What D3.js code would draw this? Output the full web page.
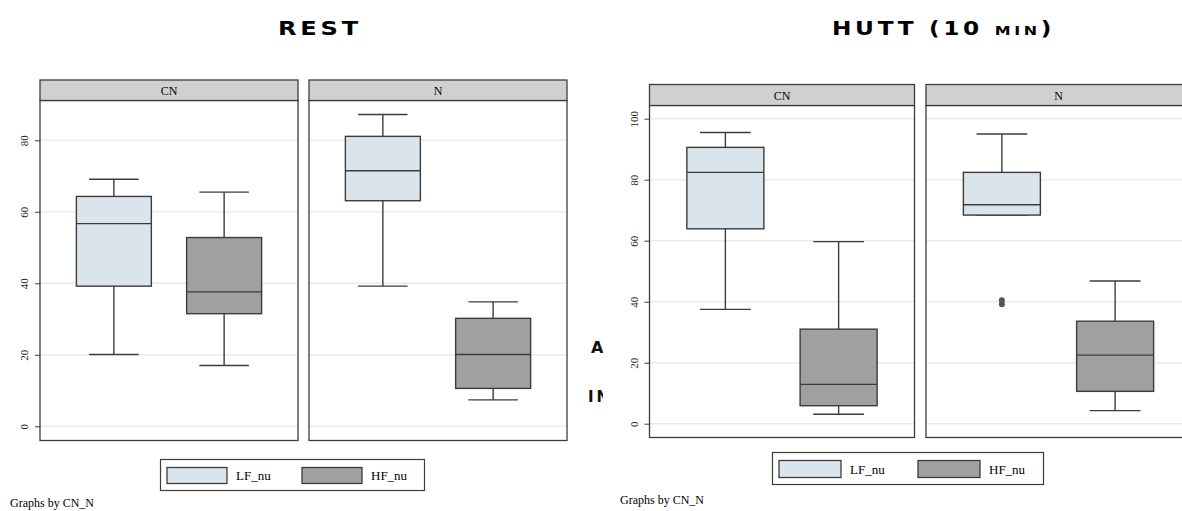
<!DOCTYPE html>
<html>
<head>
<meta charset="utf-8">
<script src="https://cdn.jsdelivr.net/npm/d3@7.9.0/dist/d3.min.js"></script>
<style>
  body { margin: 0; background: #fff; }
  svg { display: block; }
</style>
</head>
<body>
<svg id="chart" width="1182" height="511"></svg>
<script>
// groups (panels) and measures (boxes inside each panel)
const groups = ['CN', 'N'];
const measures = ['LF_nu', 'HF_nu'];

// five-number summaries per group: [min, q1, median, q3, max]
const restLF = [[20.1, 39.2, 56.7, 64.3, 69.1], [39.2, 63.1, 71.5, 81.1, 87.2]];
const restHF = [[17.0, 31.5, 37.6, 52.8, 65.5], [7.4, 10.6, 20.1, 30.2, 34.8]];
const huttLF = [[37.5, 63.9, 82.4, 90.6, 95.5], [68.4, 68.4, 71.8, 82.4, 95.0]];
const huttHF = [[3.1, 5.9, 12.9, 31.0, 59.7], [4.3, 10.6, 22.5, 33.6, 46.8]];
const huttOutliers = [
  { group: 'N', measure: 'LF_nu', value: 40.5 },
  { group: 'N', measure: 'LF_nu', value: 39.2 }
];
const restOutliers = [];

const restTicks = [0, 20, 40, 60, 80];
const huttTicks = [0, 20, 40, 60, 80, 100];

const fills = { LF_nu: '#dae5eb', HF_nu: '#a0a0a0' };
const ink = '#3c3c3c';

const svg = d3.select('#chart');

// text fragments peeking out from behind the right chart
svg.append('defs').append('clipPath').attr('id', 'fragclip')
  .append('rect').attr('x', 560).attr('y', 320).attr('width', 43).attr('height', 100);
const frag = svg.append('g').attr('clip-path', 'url(#fragclip)')
  .style('font-family', 'DejaVu Sans').style('font-weight', 'bold').style('fill', '#111');
frag.append('text').attr('x', 591).attr('y', 353).style('font-size', '16px').style('letter-spacing', '4px').text('AN');
frag.append('text').attr('x', 588).attr('y', 402).style('font-size', '15px').style('letter-spacing', '3px').text('IN');

function drawChart(cfg) {
  const g = svg.append('g');

  // title
  g.append('text')
    .attr('x', cfg.titleX).attr('y', 35)
    .attr('textLength', cfg.titleW)
    .attr('lengthAdjust', 'spacingAndGlyphs')
    .style('font-family', 'DejaVu Sans')
    .style('font-weight', 'bold')
    .style('font-size', '19px')
    .style('letter-spacing', '3px')
    .style('font-variant', 'small-caps')
    .text(cfg.title);

  const y = d3.scaleLinear().domain([0, cfg.ticks[cfg.ticks.length - 1]]).range([cfg.y0, cfg.yTop]);
  const px = d3.scaleBand().domain(groups).range([cfg.x0, cfg.x0 + 2 * cfg.panelW + cfg.gap]).paddingInner(cfg.gap / (cfg.panelW + cfg.gap));
  const bx = d3.scaleBand().domain(measures).range([0, cfg.panelW]).paddingInner(0.32).paddingOuter(0.33);

  const data = { LF_nu: cfg.lf, HF_nu: cfg.hf };

  groups.forEach((grp, gi) => {
    const p = g.append('g').attr('transform', `translate(${px(grp)},0)`);
    const w = px.bandwidth();

    // plot background and grid
    p.append('rect').attr('x', 0).attr('y', cfg.headerBottom).attr('width', w)
      .attr('height', cfg.plotBottom - cfg.headerBottom).attr('fill', '#fff');
    p.selectAll('line.grid').data(cfg.ticks).join('line')
      .attr('class', 'grid')
      .attr('x1', 0).attr('x2', w)
      .attr('y1', d => y(d)).attr('y2', d => y(d))
      .attr('stroke', '#eaeaea').attr('stroke-width', 1.5);

    // boxes
    measures.forEach(m => {
      const s = data[m][gi];
      const cx = bx(m) + bx.bandwidth() / 2;
      const bw = bx.bandwidth();
      const cap = bw * 0.66;
      const b = p.append('g').attr('stroke', ink).attr('stroke-width', 1.4);
      b.append('line').attr('x1', cx).attr('x2', cx).attr('y1', y(s[4])).attr('y2', y(s[3]));
      b.append('line').attr('x1', cx).attr('x2', cx).attr('y1', y(s[1])).attr('y2', y(s[0]));
      b.append('line').attr('x1', cx - cap / 2).attr('x2', cx + cap / 2).attr('y1', y(s[4])).attr('y2', y(s[4]));
      b.append('line').attr('x1', cx - cap / 2).attr('x2', cx + cap / 2).attr('y1', y(s[0])).attr('y2', y(s[0]));
      b.append('rect').attr('x', bx(m)).attr('y', y(s[3])).attr('width', bw)
        .attr('height', y(s[1]) - y(s[3])).attr('fill', fills[m]);
      b.append('line').attr('x1', bx(m)).attr('x2', bx(m) + bw).attr('y1', y(s[2])).attr('y2', y(s[2]));

      cfg.outliers.filter(o => o.group === grp && o.measure === m).forEach(o => {
        p.append('circle').attr('cx', cx).attr('cy', y(o.value)).attr('r', 3).attr('fill', '#555');
      });
    });

    // frame
    p.append('rect').attr('x', 0).attr('y', cfg.headerBottom).attr('width', w)
      .attr('height', cfg.plotBottom - cfg.headerBottom)
      .attr('fill', 'none').attr('stroke', ink).attr('stroke-width', 1.3);

    // strip header
    p.append('rect').attr('x', 0).attr('y', cfg.headerTop).attr('width', w)
      .attr('height', cfg.headerBottom - cfg.headerTop)
      .attr('fill', '#d0d0d0').attr('stroke', ink).attr('stroke-width', 1.3);
    p.append('text').attr('x', w / 2).attr('y', cfg.headerBottom - 6)
      .attr('text-anchor', 'middle')
      .style('font-family', 'Liberation Serif').style('font-size', '12px')
      .text(grp);
  });

  // y axis
  const axis = g.append('g').attr('transform', `translate(${cfg.x0},0)`)
    .call(d3.axisLeft(y).tickValues(cfg.ticks).tickSize(5).tickPadding(4));
  axis.select('.domain').remove();
  axis.selectAll('.tick line').attr('stroke', ink);
  axis.selectAll('.tick text')
    .style('font-family', 'Liberation Serif').style('font-size', '11px').attr('fill', '#222')
    .attr('x', null).attr('dy', null)
    .attr('text-anchor', 'middle')
    .attr('transform', 'translate(-12,0) rotate(-90)');

  // legend
  const L = cfg.legend;
  const lg = g.append('g').attr('transform', `translate(${L.x},${L.y})`);
  lg.append('rect').attr('width', L.w).attr('height', L.h)
    .attr('fill', '#fff').attr('stroke', ink).attr('stroke-width', 1.2);
  measures.forEach((m, i) => {
    const ox = 6.5 + i * L.step;
    lg.append('rect').attr('x', ox).attr('y', 8).attr('width', L.sw).attr('height', L.h - 15)
      .attr('fill', fills[m]).attr('stroke', ink).attr('stroke-width', 1.3);
    lg.append('text').attr('x', ox + L.sw + 9).attr('y', L.h / 2 + 5)
      .style('font-family', 'Liberation Serif').style('font-size', '13px')
      .text(m);
  });

  g.append('text').attr('x', cfg.noteX).attr('y', cfg.noteY)
    .style('font-family', 'Liberation Serif').style('font-size', '12px')
    .text('Graphs by CN_N');
}

drawChart({
  title: 'REST', titleX: 278, titleW: 84,
  lf: restLF, hf: restHF, outliers: restOutliers, ticks: restTicks,
  x0: 40, panelW: 258, gap: 11,
  headerTop: 80, headerBottom: 100.5, plotBottom: 440.5,
  y0: 426.3, yTop: 140.3,
  legend: { x: 160.5, y: 459.5, w: 264, h: 31, sw: 60, step: 135 },
  noteX: 10, noteY: 507
});

drawChart({
  title: 'HUTT (10 min)', titleX: 832, titleW: 223,
  lf: huttLF, hf: huttHF, outliers: huttOutliers, ticks: huttTicks,
  x0: 649.5, panelW: 265, gap: 11.5,
  headerTop: 84.5, headerBottom: 105.5, plotBottom: 437.5,
  y0: 423.7, yTop: 118.7,
  legend: { x: 772.5, y: 452.5, w: 271, h: 32, sw: 62, step: 139 },
  noteX: 620, noteY: 504
});
</script>
</body>
</html>
